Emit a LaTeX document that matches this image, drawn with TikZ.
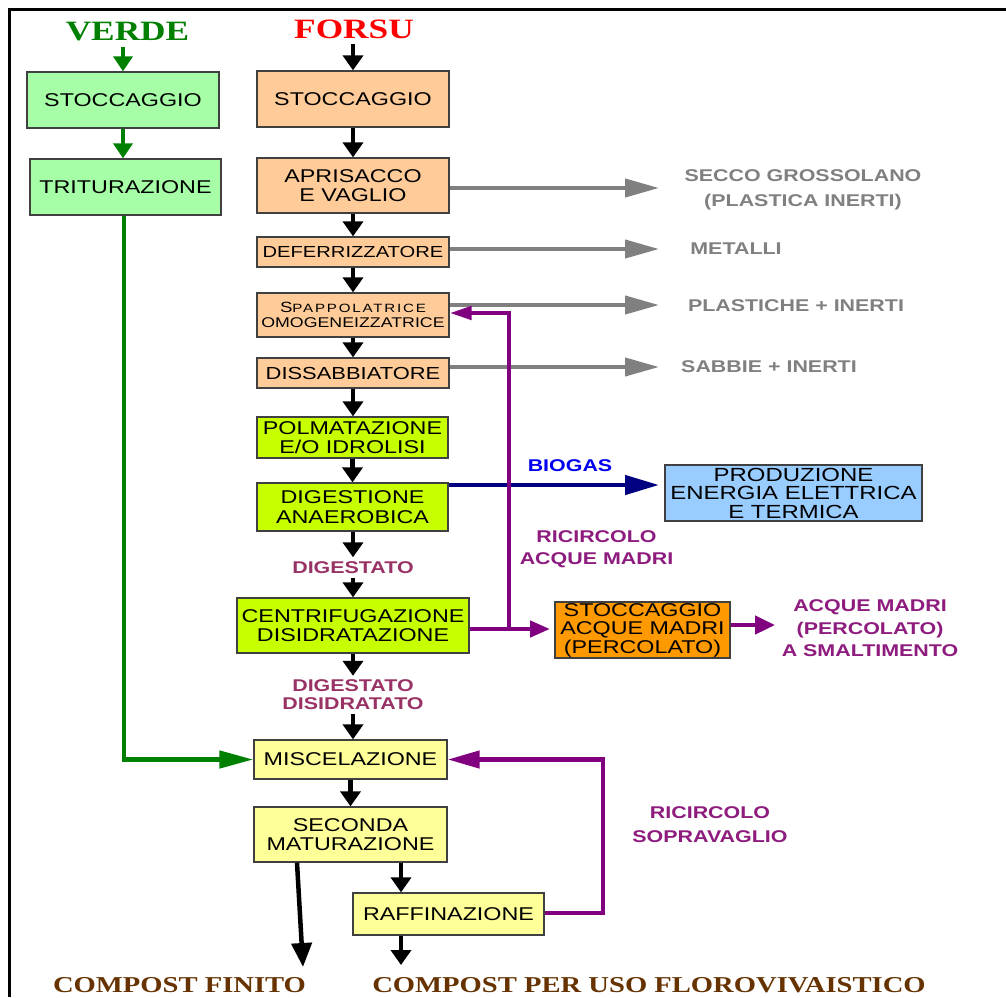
\documentclass[tikz,border=0pt]{standalone}
\usepackage{fontspec}
\usetikzlibrary{arrows.meta,calc}
\newfontfamily\boxfont[FakeStretch=1.26]{Liberation Sans}
\newfontfamily\labfont[FakeStretch=1.26]{Liberation Sans}
\newfontfamily\titlefont[FakeStretch=1.26]{Liberation Serif}
\definecolor{peach}{HTML}{FFCC99}
\definecolor{lgreen}{HTML}{A6FFA6}
\definecolor{limec}{HTML}{C8FF00}
\definecolor{lblue}{HTML}{99CCFF}
\definecolor{orng}{HTML}{FF9900}
\definecolor{lyell}{HTML}{FFFF99}
\definecolor{gry}{HTML}{808080}
\definecolor{maroonc}{HTML}{993366}
\definecolor{purpc}{HTML}{800080}
\definecolor{purplab}{HTML}{8E1C7E}
\definecolor{bgblue}{HTML}{0000F0}
\definecolor{navyc}{HTML}{000080}
\definecolor{brownc}{HTML}{663300}
\definecolor{dgreen}{HTML}{008000}
\begin{document}
\begin{tikzpicture}[x=1pt,y=-1pt,
  box/.style={draw=black!75,line width=1.3pt,inner sep=0pt,align=center,text=black,
    font=\boxfont\fontsize{18.5}{19.5}\selectfont},
  box3/.style={box,font=\boxfont\fontsize{19}{18.5}\selectfont},
  lab/.style={inner sep=4pt,align=center,font=\labfont\bfseries\fontsize{17}{22.5}\selectfont},
  ttl/.style={inner sep=5pt,font=\titlefont\bfseries\fontsize{28}{30}\selectfont},
  blk/.style={draw=black,line width=4.5pt,-{Triangle[length=15pt,width=20pt]}},
  grn/.style={draw=dgreen,line width=4.5pt,-{Triangle[length=15pt,width=19pt]}},
  gra/.style={draw=gry,line width=4pt,-{Triangle[length=34pt,width=18pt]}},
  nav/.style={draw=navyc,line width=4.5pt,-{Triangle[length=34pt,width=19pt]}},
  prp/.style={draw=purpc,line width=4.5pt}
]
\useasboundingbox (0,0) rectangle (1006,997);
\fill[white] (0,0) rectangle (1006,997);
% frame
\draw[line width=3pt] (1006,9.5) -- (9.5,9.5) -- (9.5,997);

% titles
\node[ttl,text=dgreen] (verde) at (127.5,32) {VERDE};
\node[ttl,text=red] (forsu) at (354,29.5) {FORSU};

% verde column
\node[box,fill=lgreen,minimum width=192pt,minimum height=56pt] (vs) at (123,100) {STOCCAGGIO};
\node[box,fill=lgreen,minimum width=191pt,minimum height=56pt] (vt) at (125.5,187) {TRITURAZIONE};

% forsu column
\node[box,fill=peach,minimum width=192pt,minimum height=56pt] (fs) at (353,99) {STOCCAGGIO};
\node[box,fill=peach,minimum width=192pt,minimum height=55pt] (fa) at (353,185.5) {APRISACCO\\E VAGLIO};
\node[box,fill=peach,minimum width=192pt,minimum height=30pt,font=\boxfont\fontsize{16}{18}\selectfont] (fd) at (353,252) {DEFERRIZZATORE};
\node[box,fill=peach,minimum width=192pt,minimum height=44pt,font=\boxfont\fontsize{14.1}{14.5}\selectfont] (fsp) at (353,315)
  {{\fontsize{14.8}{14.5}\selectfont S}{\fontsize{12}{14.5}\selectfont\addfontfeature{LetterSpace=15}PAPPOLATRICE}\\OMOGENEIZZATRICE};
\node[box,fill=peach,minimum width=192pt,minimum height=30pt,font=\boxfont\fontsize{17.4}{18}\selectfont] (fdi) at (353,373) {DISSABBIATORE};
\node[box,fill=limec,minimum width=191pt,minimum height=41pt] (fp) at (352.5,437.5) {POLMATAZIONE\\E/O IDROLISI};
\node[box,fill=limec,minimum width=191pt,minimum height=48pt] (fdg) at (352.5,507) {DIGESTIONE\\ANAEROBICA};
\node[box,fill=limec,minimum width=232pt,minimum height=55pt] (fc) at (353,625.5) {CENTRIFUGAZIONE\\DISIDRATAZIONE};
\node[box3,fill=lblue,minimum width=257pt,minimum height=56pt] (prod) at (793.5,493) {PRODUZIONE\\ENERGIA ELETTRICA\\E TERMICA};
\node[box3,fill=orng,minimum width=175pt,minimum height=56pt,font=\boxfont\fontsize{18.5}{18.5}\selectfont] (sam) at (642.5,630) {STOCCAGGIO\\ACQUE MADRI\\(PERCOLATO)};
\node[box,fill=lyell,minimum width=193pt,minimum height=39pt] (misc) at (350.5,759.5) {MISCELAZIONE};
\node[box,fill=lyell,minimum width=193pt,minimum height=55pt] (sec) at (350.5,834.5) {SECONDA\\MATURAZIONE};
\node[box,fill=lyell,minimum width=191pt,minimum height=42pt] (raff) at (448.5,914) {RAFFINAZIONE};

% labels
\node[lab,text=gry,font=\labfont\bfseries\fontsize{17}{25}\selectfont] (l1) at (803,190) {SECCO GROSSOLANO\\(PLASTICA INERTI)};
\node[lab,text=gry] (l2) at (736,249) {METALLI};
\node[lab,text=gry] (l3) at (796,306) {PLASTICHE + INERTI};
\node[lab,text=gry] (l4) at (769,367) {SABBIE + INERTI};
\node[lab,text=bgblue] (l5) at (570,466) {BIOGAS};
\node[lab,text=purplab] (l6) at (596.5,549) {RICIRCOLO\\ACQUE MADRI};
\node[lab,text=purplab] (l7) at (870,628.5) {ACQUE MADRI\\(PERCOLATO)\\A SMALTIMENTO};
\node[lab,text=maroonc] (dg1) at (353,567.5) {DIGESTATO};
\node[lab,text=maroonc,font=\labfont\bfseries\fontsize{17}{18}\selectfont] (dg2) at (353,695) {DIGESTATO\\DISIDRATATO};
\node[lab,text=purplab,font=\labfont\bfseries\fontsize{17}{24}\selectfont] (l8) at (710,825) {RICIRCOLO\\SOPRAVAGLIO};
\node[ttl,text=brownc,font=\titlefont\bfseries\fontsize{22.7}{24}\selectfont] (cf) at (179.5,985.5) {COMPOST FINITO};
\node[ttl,text=brownc,font=\titlefont\bfseries\fontsize{22.7}{24}\selectfont] (cp) at (649,985.5) {COMPOST PER USO FLOROVIVAISTICO};

% verde arrows
\draw[grn] (vs.north |- verde.south) -- (vs.north);
\draw[grn] (vs.south) -- (vs.south |- vt.north);
\coordinate (gc) at (124,759.5);
\draw[draw=dgreen,line width=4.5pt,-{Triangle[length=34pt,width=17pt]}] (vt.south -| gc) -- (gc) -- (misc.west);

% forsu chain
\draw[blk] (fs.north |- forsu.south) -- (fs.north);
\draw[blk] (fs.south) -- (fa.north);
\draw[blk] (fa.south) -- (fd.north);
\draw[blk] (fd.south) -- (fsp.north);
\draw[blk] (fsp.south) -- (fdi.north);
\draw[blk] (fdi.south) -- (fdi.south |- fp.north);
\draw[blk] (fp.south) -- (fdg.north);
\draw[blk] (fdg.south -| dg1.north) -- (dg1.north);
\draw[blk] (dg1.south) -- (fc.north);
\draw[blk] (fc.south) -- (dg2.north);
\draw[blk] (dg2.south) -- (dg2.south |- misc.north);
\draw[blk] (misc.south) -- (sec.north);

% gray outputs
\coordinate (g1) at (659,188);
\coordinate (g2) at (659,249);
\coordinate (g3) at (659,305);
\coordinate (g4) at (659,367);
\draw[gra] (fa.east |- g1) -- (g1);
\draw[gra] (fd.east |- g2) -- (g2);
\draw[gra] (fsp.east |- g3) -- (g3);
\draw[gra] (fdi.east |- g4) -- (g4);

% biogas
\coordinate (bg) at (659,485);
\draw[nav] (fdg.east |- bg) -- (bg);

% acque madri
\coordinate (pj) at (509,629);
\coordinate (pt) at (509,313);
\coordinate (pa) at (550,629);
\draw[prp,-{Triangle[length=20pt,width=16pt]}] (fc.east |- pj) -- (pa);
\draw[prp,-{Triangle[length=22pt,width=13pt]}] (pj) -- (pt) -- (fsp.east |- pt);
\coordinate (sm) at (775,625);
\draw[prp,-{Triangle[length=20pt,width=18pt]}] (sam.east |- sm) -- (sm);

% bottom
\coordinate (rc) at (603,913);
\draw[prp,-{Triangle[length=32pt,width=17pt]}] (raff.east |- rc) -- (rc) -- (rc |- misc.east) -- (misc.east);
\coordinate (ra) at (401,900);
\coordinate (rb) at (401,965);
\draw[blk] (sec.south -| ra) -- (raff.north -| ra);
\draw[blk] (raff.south -| ra) -- (rb);
\coordinate (ca) at (297,862);
\coordinate (cb) at (303,967);
\draw[blk,-{Triangle[length=24pt,width=20pt]}] (sec.south -| ca) -- (cb);
\end{tikzpicture}
\end{document}
